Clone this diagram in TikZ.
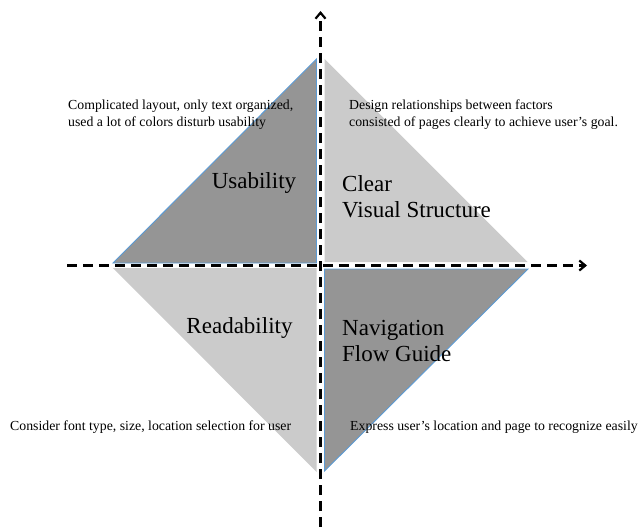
\documentclass[tikz,border=0pt]{standalone}
\usepackage{fontspec}
\setmainfont{Liberation Serif}
\usetikzlibrary{arrows.meta}
\definecolor{darkq}{HTML}{959595}
\definecolor{lightq}{HTML}{CBCBCB}
\definecolor{edgeblue}{HTML}{5B9BD5}
\tikzset{
  darktri/.style={fill=darkq, draw=edgeblue, line width=0.9pt},
  lighttri/.style={fill=lightq},
  axis/.style={line width=3pt, dash pattern=on 10pt off 6pt, -{Straight Barb[length=6pt,width=10pt,line width=2.2pt]}},
  bigtext/.style={font=\fontsize{23}{26.5}\selectfont, inner sep=0pt, align=left},
  smalltext/.style={font=\fontsize{13.8}{17}\selectfont, inner sep=0pt, align=left},
}
\begin{document}
\begin{tikzpicture}[x=1pt,y=-1pt]
\useasboundingbox (0,0) rectangle (641,527);
% quadrants
\draw[darktri] (113,263) -- (316.5,59) -- (316.5,263) -- cycle;
\fill[lighttri] (324.5,59) -- (324.5,262) -- (527.5,262) -- cycle;
\fill[lighttri] (113,268) -- (316.5,268) -- (316.5,472) -- cycle;
\draw[darktri] (324.5,269) -- (528,269) -- (324.5,471) -- cycle;
% axes
\coordinate (vb) at (320.5,527);
\coordinate (vt) at (320.5,11);
\coordinate (hl) at (67,265.5);
\coordinate (hr) at (587,265.5);
\draw[axis] (vb) -- (vt);
\draw[axis] (hl) -- (hr);
% big labels
\node[bigtext] (usab) at (254,183) {Usability};
\node[bigtext, anchor=west] (clear) at (342,196.5) {Clear\\Visual Structure};
\node[bigtext] (read) at (239.5,328) {Readability};
\node[bigtext, anchor=west] (nav) at (342,341) {Navigation\\Flow Guide};
% small descriptions
\node[smalltext, anchor=west] (d1) at (68,114.5) {Complicated layout, only text organized,\\used a lot of colors disturb usability};
\node[smalltext, anchor=west] (d2) at (349,114.5) {Design relationships between factors\\consisted of pages clearly to achieve user's goal.};
\node[smalltext, anchor=west] (d3) at (10,427) {Consider font type, size, location selection for user};
\node[smalltext, anchor=west] (d4) at (350,427) {Express user's location and page to recognize easily};
\end{tikzpicture}
\end{document}
